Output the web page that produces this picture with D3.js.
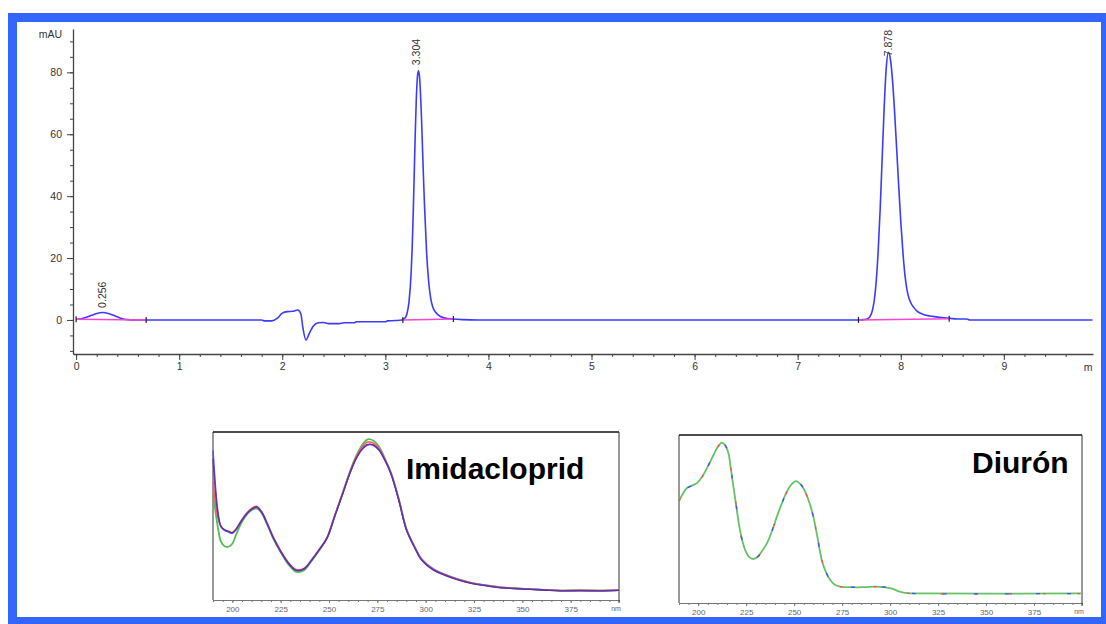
<!DOCTYPE html>
<html>
<head>
<meta charset="utf-8">
<script src="https://cdn.jsdelivr.net/npm/d3@7"></script>
<style>
  body { margin: 0; background: #fff; }
  svg { display: block; font-family: "Liberation Sans", Arial, sans-serif; }
</style>
</head>
<body>
<div id="chart"></div>
<script>
// chromatogram trace (time in min, signal in mAU)
var chromTime = [0.00, 0.05, 0.10, 0.15, 0.20, 0.26, 0.32, 0.38, 0.44, 0.50, 0.56,
  1.80, 1.83, 1.90, 1.95, 2.00, 2.05, 2.10, 2.15, 2.18, 2.20, 2.23, 2.26, 2.30, 2.35,
  2.40, 2.45, 2.55, 2.60, 2.70, 2.72, 3.00, 3.02, 3.10, 3.16,
  3.19, 3.21, 3.23, 3.25, 3.26, 3.27, 3.28, 3.29, 3.30, 3.31, 3.32, 3.33, 3.34, 3.35,
  3.36, 3.37, 3.38, 3.40, 3.42, 3.44, 3.46, 3.49, 3.53, 3.58, 3.65, 3.75, 3.90,
  7.60, 7.64, 7.68, 7.72, 7.76, 7.78, 7.80, 7.82, 7.84, 7.86, 7.88, 7.90, 7.92, 7.94,
  7.96, 7.98, 8.00, 8.02, 8.04, 8.06, 8.08, 8.10, 8.12, 8.16, 8.22, 8.28, 8.35, 8.42,
  8.48, 8.55, 8.64, 8.67, 9.86];
var chromMAU = [0.2, 0.4, 0.9, 1.5, 2.1, 2.4, 2.0, 1.3, 0.5, 0.1, 0.0,
  0.0, -0.3, -0.3, 0.5, 2.2, 2.7, 2.8, 3.2, 2.0, -2.5, -6.5, -4.5, -2.0, -0.9,
  -0.8, -1.2, -1.2, -0.9, -0.9, -0.6, -0.6, -0.3, -0.2, 0.0,
  0.6, 2, 6, 15, 23, 34, 47, 60, 71, 78, 80.5, 79, 74, 66,
  56, 46, 37, 22, 12.5, 7, 4.2, 2.4, 1.2, 0.6, 0.3, 0.1, 0.0,
  0.0, 0.1, 0.4, 2.5, 11.7, 21.6, 35.6, 52.5, 69.3, 81.8, 86.5, 84.2, 77.4, 67.4,
  55.5, 43.3, 31.9, 22.3, 14.7, 9.8, 7.0, 5.4, 4.3, 2.8, 1.8, 1.3, 1.0, 0.7,
  0.5, 0.3, 0.3, 0.0, 0.0];

// integration baselines
var baseStartT = [0.00, 3.17, 7.59];
var baseEndT = [0.68, 3.66, 8.47];
var baseStartV = [0.25, 0.0, 0.0];
var baseEndV = [0.0, 0.3, 0.4];

// peak labels
var peakTimes = [0.256, 3.304, 7.878];
var peakNames = ["0.256", "3.304", "7.878"];
var peakLabelLevels = [3.9, 82.3, 85.2];

var yTicks = [0, 20, 40, 60, 80];
var xTicks = [0, 1, 2, 3, 4, 5, 6, 7, 8, 9];

// UV spectra (nm / relative absorbance)
var imidaNm = [190, 191, 192, 193, 194, 196, 198, 200, 202, 205, 208, 210, 212.5, 215, 218,
  221, 225, 229, 233, 237, 241, 245, 249, 253, 257, 261, 264, 267, 270, 273, 276, 279,
  282, 286, 290, 294, 298, 304, 310, 317, 324, 331, 338, 346, 354, 362, 370, 380, 390, 400];
var imidaBlue = [89, 72, 58, 49, 44, 41.5, 40.5, 39.7, 42, 47.6, 52, 54, 55.2, 52.5, 45.5,
  37.5, 29, 22, 17.8, 18.5, 23.8, 30, 37, 50, 63, 76, 84, 89.5, 92.3, 92, 89, 83,
  75.4, 60, 42, 32, 23.8, 18, 14.9, 12, 9.9, 8.6, 7.5, 6.9, 6.4, 5.9, 5.5, 5.6, 5.5, 5.8];
var imidaPurple = [84, 68, 56, 48, 44, 41.8, 40.8, 40, 42.2, 47.6, 52, 54.2, 55.4, 52.6, 45.5,
  37.4, 28.8, 21.8, 17.6, 18.4, 23.6, 30, 37, 50, 63, 76, 84.2, 89.8, 92.6, 92.3, 89.2, 83,
  75.2, 59.8, 41.8, 31.8, 23.6, 17.8, 14.7, 11.9, 9.8, 8.5, 7.4, 6.8, 6.3, 5.8, 5.4, 5.5, 5.4, 5.7];
var imidaRed = [70, 60, 52, 47, 44, 41.8, 41, 40.2, 42.5, 48, 52.5, 54.6, 55.8, 53, 46,
  38, 29.4, 22.4, 18.2, 18.8, 24, 30.2, 37.2, 50.4, 63.5, 76.6, 85, 91, 94, 93.4, 90, 83.6,
  75.8, 60.4, 42.4, 32.3, 24.2, 18.4, 15.2, 12.3, 10.2, 8.8, 7.8, 7.0, 6.6, 6.0, 5.7, 5.8, 5.7, 6.0];
var imidaGreen = [62.5, 55, 47, 40, 35, 32, 31.7, 33.5, 39, 46.5, 51.5, 53.5, 54.5, 52, 45,
  37, 28.4, 21.2, 16.8, 17.6, 23.2, 29.6, 36.8, 50, 63.4, 77, 85.6, 92, 95.6, 94.8, 91, 84,
  76, 60.6, 42.6, 32.4, 24.2, 18.4, 15.1, 12.2, 10.1, 8.8, 7.7, 7.0, 6.5, 6.0, 5.6, 5.7, 5.6, 5.9];

var diuronNm = [190, 192, 194, 197, 199.5, 202, 204, 206, 208, 210, 212.3, 214, 215.8, 217,
  218.4, 220, 221.5, 223, 224.5, 226.5, 228.8, 231, 233, 235.8, 238.5, 241, 243.5, 246.2,
  248.5, 251, 253.5, 255.7, 258, 260, 262, 264.4, 266.5, 268.8, 271, 274, 280, 286, 292,
  297, 301, 305, 309, 315, 400];
var diuronGreen = [60.7, 65, 68.3, 70, 71.5, 75, 79, 83.5, 88.1, 92.5, 95.4, 94, 89, 80,
  69, 56.5, 45, 37, 31.5, 27.5, 26.2, 27.5, 30.5, 35.5, 43, 51.4, 59, 66.3,
  70.5, 72.6, 70.5, 66.3, 59.5, 51.4, 40, 25.6, 18.5, 13.7, 11, 9.7, 9.4, 9.4, 9.8,
  9.5, 8.5, 6.8, 5.9, 5.7, 5.7];
var diuronRed = [60.7, 65, 68.3, 70, 71.5, 75, 79, 83.5, 88.1, 92.5, 95.4, 94, 89, 80,
  69, 56.5, 45, 37, 31.5, 27.5, 26.2, 27.5, 30.5, 35.5, 43, 51.4, 59, 66.3,
  70.5, 72.6, 70.5, 66.3, 59.5, 51.4, 40, 25.6, 18.5, 13.7, 11, 9.7, 9.4, 9.4, 9.8,
  9.5, 8.5, 6.8, 5.9, 5.6, 5.6];
var diuronBlue = diuronRed;

var nmTicks = [200, 225, 250, 275, 300, 325, 350, 375];

var W = 1106, H = 624;
var svg = d3.select("#chart").append("svg")
  .attr("width", W)
  .attr("height", H);

// blue frame
svg.append("rect").attr("x", 8).attr("y", 13).attr("width", 1098).attr("height", 611)
  .attr("fill", "#3366ff");
svg.append("rect").attr("x", 17).attr("y", 22).attr("width", 1084).attr("height", 595)
  .attr("fill", "#fff");

// ---------- chromatogram ----------
var x = d3.scaleLinear().domain([-0.03, 9.865]).range([73, 1093]);
var y = d3.scaleLinear().domain([-11, 94]).range([354, 29]);
var axisCol = "#444", textCol = "#333";

// minor y ticks
var yMinor = d3.range(-10, 91, 5);
svg.append("g")
  .attr("transform", "translate(73,0)")
  .call(d3.axisLeft(y).tickValues(yMinor).tickSize(3).tickSizeOuter(0).tickFormat(""))
  .call(g => g.select(".domain").remove())
  .call(g => g.selectAll("line").attr("stroke", axisCol));

// y axis
svg.append("g")
  .attr("transform", "translate(73,0)")
  .call(d3.axisLeft(y).tickValues(yTicks).tickSize(6).tickSizeOuter(0).tickPadding(5))
  .call(g => g.select(".domain").attr("stroke", axisCol).attr("stroke-width", 1.3))
  .call(g => g.selectAll("line").attr("stroke", axisCol))
  .call(g => g.selectAll("text").attr("fill", textCol).style("font-size", "10.5px")
    .style("font-family", "'Liberation Sans', Arial, sans-serif"));

// minor x ticks
svg.append("g")
  .attr("transform", "translate(0,354)")
  .call(d3.axisBottom(x).tickValues(d3.range(0, 49).map(i => i * 0.2)).tickSize(3).tickSizeOuter(0).tickFormat(""))
  .call(g => g.select(".domain").remove())
  .call(g => g.selectAll("line").attr("stroke", axisCol));

// x axis
svg.append("g")
  .attr("transform", "translate(0,354)")
  .call(d3.axisBottom(x).tickValues(xTicks).tickSize(6).tickSizeOuter(0).tickPadding(3))
  .call(g => g.select(".domain").attr("stroke", axisCol).attr("stroke-width", 1.3))
  .call(g => g.selectAll("line").attr("stroke", axisCol))
  .call(g => g.selectAll("text").attr("fill", textCol).style("font-size", "10.5px")
    .style("font-family", "'Liberation Sans', Arial, sans-serif"));

// axis unit labels
svg.append("text")
  .attr("x", 62).attr("y", 38)
  .attr("text-anchor", "end")
  .attr("fill", textCol)
  .style("font-size", "10.5px")
  .text("mAU");
svg.append("text")
  .attr("x", 1088).attr("y", 371)
  .attr("text-anchor", "middle")
  .attr("fill", textCol)
  .style("font-size", "10.5px")
  .text("m");

// trace
var chrom = chromTime.map((t, i) => ({ t: t, v: chromMAU[i] }));
svg.append("path")
  .datum(chrom)
  .attr("fill", "none")
  .attr("stroke", "#3b3bff")
  .attr("stroke-width", 1.6)
  .attr("stroke-linejoin", "round")
  .attr("d", d3.line()
    .x(d => x(d.t))
    .y(d => y(d.v))
    .curve(d3.curveMonotoneX));

// integration baselines (pink, drawn over the trace)
baseStartT.forEach(function(t0, i) {
  svg.append("line")
    .attr("x1", x(t0)).attr("y1", y(baseStartV[i]))
    .attr("x2", x(baseEndT[i])).attr("y2", y(baseEndV[i]))
    .attr("stroke", "#ff44d4")
    .attr("stroke-width", 1.6);
});

// integration markers
baseStartT.forEach(function(t0, i) {
  [[t0, baseStartV[i]], [baseEndT[i], baseEndV[i]]].forEach(function(p) {
    svg.append("line")
      .attr("x1", x(p[0])).attr("x2", x(p[0]))
      .attr("y1", y(p[1]) - 3).attr("y2", y(p[1]) + 3)
      .attr("stroke", "#222")
      .attr("stroke-width", 1.2);
  });
});

// peak labels
peakTimes.forEach(function(t, i) {
  svg.append("text")
    .attr("transform", "translate(" + (x(t) + 3.8) + "," + y(peakLabelLevels[i]) + ") rotate(-90)")
    .attr("fill", textCol)
    .style("font-size", "10.5px")
    .text(peakNames[i]);
});

// ---------- UV spectra insets ----------
function drawSpectrum(opts) {
  var sx = d3.scaleLinear().domain([190, 400]).range([opts.left, opts.right]);
  var sy = d3.scaleLinear().domain([0, 100]).range([opts.bottom, opts.top]);
  var g = svg.append("g");

  // bottom axis
  g.append("g")
    .attr("transform", "translate(0," + opts.bottom + ")")
    .call(d3.axisBottom(sx).tickValues(d3.range(190, 401, 5)).tickSize(2).tickSizeOuter(0).tickFormat(""))
    .call(a => a.select(".domain").attr("stroke", "#777"))
    .call(a => a.selectAll("line").attr("stroke", "#777"));
  g.append("g")
    .attr("transform", "translate(0," + opts.bottom + ")")
    .call(d3.axisBottom(sx).tickValues(nmTicks).tickSize(3).tickSizeOuter(0).tickPadding(3))
    .call(a => a.select(".domain").remove())
    .call(a => a.selectAll("line").attr("stroke", "#777"))
    .call(a => a.selectAll("text").attr("fill", "#666").style("font-size", "8px")
      .style("font-family", "'Liberation Sans', Arial, sans-serif"));
  g.append("text")
    .attr("x", sx(400) - 3).attr("y", opts.bottom + 11)
    .attr("text-anchor", "middle")
    .attr("fill", "#666")
    .style("font-size", "7px")
    .text("nm");

  // frame
  g.append("line").attr("x1", sx(190)).attr("x2", sx(190))
    .attr("y1", opts.top).attr("y2", opts.bottom)
    .attr("stroke", "#777").attr("stroke-width", 1.5);
  g.append("line").attr("x1", sx(190)).attr("x2", sx(400))
    .attr("y1", opts.top).attr("y2", opts.top)
    .attr("stroke", "#111").attr("stroke-width", 1.5);
  g.append("line").attr("x1", sx(400)).attr("x2", sx(400))
    .attr("y1", opts.top).attr("y2", opts.bottom + 3)
    .attr("stroke", "#333").attr("stroke-width", 1);

  // curves
  opts.series.forEach(function(s) {
    g.append("path")
      .datum(opts.nm.map((n, i) => ({ n: n, v: s.values[i] })))
      .attr("fill", "none")
      .attr("stroke", s.color)
      .attr("stroke-width", s.width)
      .attr("stroke-dasharray", s.dash || null)
      .attr("stroke-dashoffset", s.offset || 0)
      .attr("stroke-opacity", s.opacity || 1)
      .attr("d", d3.line()
        .x(d => sx(d.n))
        .y(d => sy(d.v))
        .curve(d3.curveCatmullRom));
  });

  g.append("text")
    .attr("x", opts.labelX).attr("y", opts.labelY)
    .attr("fill", "#000")
    .style("font-size", "30px")
    .style("font-weight", "bold")
    .text(opts.name);
}

drawSpectrum({
  left: 213, right: 619, top: 432, bottom: 600,
  nm: imidaNm,
  series: [
    { values: imidaGreen, color: "#55bb55", width: 1.8 },
    { values: imidaRed, color: "#ff5a5a", width: 1.5 },
    { values: imidaBlue, color: "#5050ff", width: 1.5 },
    { values: imidaPurple, color: "#6a2c8a", width: 1.3, opacity: 0.9 }
  ],
  name: "Imidacloprid", labelX: 406, labelY: 479
});

drawSpectrum({
  left: 679, right: 1082, top: 435, bottom: 603,
  nm: diuronNm,
  series: [
    { values: diuronGreen, color: "#66c266", width: 1.8 },
    { values: diuronRed, color: "#ff4a4a", width: 1.3, dash: "3,31", offset: 0 },
    { values: diuronBlue, color: "#4a4aff", width: 1.3, dash: "4,27", offset: 15 }
  ],
  name: "Diurón", labelX: 972, labelY: 473
});
</script>
</body>
</html>
